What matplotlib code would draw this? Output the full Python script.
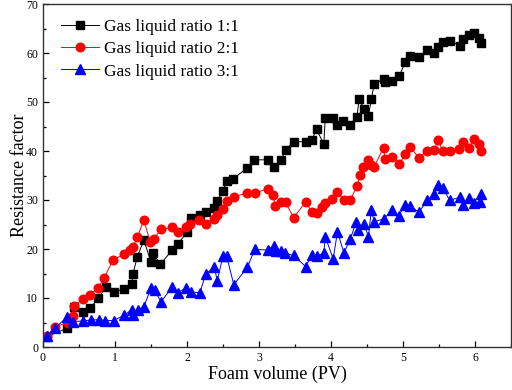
import matplotlib
matplotlib.use("Agg")
import matplotlib.pyplot as plt
from matplotlib.ticker import MultipleLocator

plt.rcParams['font.family'] = ['Liberation Serif', 'DejaVu Serif']

# Gas liquid ratio 1:1
x1 = [0.05, 0.33, 0.43, 0.56, 0.65, 0.77, 0.87, 0.98, 1.13, 1.23, 1.25, 1.31, 1.40, 1.50,
      1.53, 1.63, 1.79, 1.87, 2.00, 2.05, 2.18, 2.26, 2.37, 2.41, 2.50, 2.55, 2.64, 2.84,
      2.93, 3.12, 3.21, 3.31, 3.37, 3.49, 3.65, 3.73, 3.80, 3.90, 3.92, 4.03, 4.09, 4.17,
      4.26, 4.36, 4.39, 4.46, 4.52, 4.56, 4.60, 4.73, 4.75, 4.85, 4.95, 5.03, 5.10, 5.22,
      5.34, 5.43, 5.49, 5.55, 5.65, 5.79, 5.84, 5.91, 5.98, 6.05, 6.08]
y1 = [2.1, 3.8, 8.2, 7.2, 7.9, 9.9, 12.3, 11.3, 11.8, 12.8, 15.0, 18.4, 21.8, 17.4,
      19.1, 16.9, 19.7, 21.0, 23.4, 26.4, 26.9, 27.6, 28.3, 29.7, 31.8, 33.9, 34.3, 36.6,
      38.2, 38.2, 36.8, 38.2, 40.3, 41.9, 41.9, 42.2, 44.4, 41.4, 46.7, 46.7, 45.3, 46.2,
      45.3, 47.0, 50.6, 48.5, 47.1, 50.6, 53.7, 54.7, 54.0, 54.3, 55.4, 58.1, 59.4, 59.1,
      60.6, 60.1, 61.3, 62.2, 62.5, 61.5, 62.8, 63.7, 64.0, 63.0, 62.1]

# Gas liquid ratio 2:1
x2 = [0.05, 0.16, 0.35, 0.41, 0.43, 0.55, 0.65, 0.77, 0.85, 0.97, 1.13, 1.21, 1.25, 1.31,
      1.40, 1.49, 1.54, 1.64, 1.79, 1.87, 1.98, 2.04, 2.17, 2.26, 2.37, 2.42, 2.50, 2.55,
      2.65, 2.84, 2.94, 3.12, 3.20, 3.22, 3.31, 3.37, 3.48, 3.65, 3.73, 3.80, 3.88, 3.92,
      4.02, 4.08, 4.18, 4.27, 4.36, 4.40, 4.45, 4.52, 4.56, 4.60, 4.73, 4.75, 4.85, 4.95,
      5.03, 5.10, 5.22, 5.34, 5.43, 5.49, 5.55, 5.65, 5.78, 5.84, 5.92, 5.98, 6.06, 6.08]
y2 = [2.2, 4.1, 5.0, 6.4, 8.3, 9.8, 10.6, 12.1, 14.1, 17.7, 19.0, 19.7, 20.4, 22.4,
      25.9, 21.4, 22.1, 24.0, 24.4, 23.5, 24.5, 25.1, 26.0, 25.2, 26.1, 27.0, 28.1, 29.7,
      30.7, 31.4, 31.4, 32.3, 31.0, 28.7, 29.5, 29.5, 26.4, 29.6, 27.6, 27.4, 28.5, 29.3,
      30.3, 31.7, 30.0, 30.0, 32.9, 35.1, 36.7, 38.2, 37.1, 36.8, 40.7, 38.3, 38.8, 37.3,
      39.4, 40.9, 38.6, 40.0, 40.3, 42.2, 40.0, 40.0, 40.5, 41.9, 40.6, 42.4, 41.4, 40.0]

# Gas liquid ratio 3:1
x3 = [0.05, 0.17, 0.34, 0.41, 0.55, 0.66, 0.78, 0.86, 0.98, 1.13, 1.23, 1.25, 1.32, 1.40,
      1.50, 1.55, 1.64, 1.79, 1.87, 1.98, 2.05, 2.18, 2.26, 2.38, 2.42, 2.50, 2.55, 2.65,
      2.84, 2.94, 3.12, 3.21, 3.23, 3.30, 3.36, 3.48, 3.65, 3.73, 3.80, 3.90, 3.92, 4.03,
      4.09, 4.18, 4.27, 4.35, 4.38, 4.46, 4.52, 4.56, 4.60, 4.73, 4.85, 4.94, 5.03, 5.10,
      5.22, 5.34, 5.43, 5.48, 5.55, 5.65, 5.79, 5.84, 5.92, 5.98, 6.07, 6.08]
y3 = [2.2, 3.9, 6.2, 5.2, 5.3, 5.5, 5.6, 5.4, 5.4, 6.5, 7.6, 6.6, 7.6, 8.2,
      12.0, 11.6, 9.2, 12.2, 11.1, 12.0, 11.2, 11.1, 14.9, 16.3, 13.5, 18.6, 18.6, 12.7,
      16.3, 19.9, 19.8, 20.7, 19.5, 19.6, 19.1, 18.7, 16.4, 18.8, 18.5, 19.2, 22.5, 18.0,
      23.5, 19.2, 22.1, 25.6, 23.8, 25.1, 22.5, 27.9, 25.6, 26.1, 28.0, 26.8, 29.0, 28.8,
      27.5, 30.0, 31.2, 33.0, 32.5, 29.9, 30.6, 29.0, 30.5, 29.4, 29.6, 31.2]

labels = ["Gas liquid ratio 1:1", "Gas liquid ratio 2:1", "Gas liquid ratio 3:1"]

fig = plt.figure(figsize=(5.12, 3.9), dpi=100)
ax = fig.add_axes([43/512, 1 - 347/390, 468/512, 343/390])

ax.plot(x1, y1, color='black', marker='s', markersize=5.4, linewidth=0.7, label=labels[0])
ax.plot(x2, y2, color='#ff0000', marker='o', markersize=6.2, linewidth=0.7, label=labels[1])
ax.plot(x3, y3, color='#0000ff', marker='^', markersize=6.5, linewidth=0.7, label=labels[2])

ax.set_xlim(0, 6.5)
ax.set_ylim(0, 70)
ax.xaxis.set_major_locator(MultipleLocator(1))
ax.xaxis.set_minor_locator(MultipleLocator(0.5))
ax.yaxis.set_major_locator(MultipleLocator(10))
ax.yaxis.set_minor_locator(MultipleLocator(5))
ax.tick_params(which='both', direction='in', top=False, right=False, labelsize=8.5, width=0.9)
ax.tick_params(which='major', length=4)
ax.tick_params(which='minor', length=2.5)
for s in ax.spines.values():
    s.set_linewidth(1.0)
    s.set_color('#333333')

ax.set_xlabel("Foam volume (PV)", fontsize=13, labelpad=1)
ax.set_ylabel("Resistance factor", fontsize=13, labelpad=-1)

ax.legend(loc='upper left', frameon=False, fontsize=12.5, handlelength=2.2,
          handletextpad=0.3, labelspacing=0.36, borderaxespad=0.3,
          bbox_to_anchor=(0.012, 0.993))

fig.savefig("out.png", dpi=100)
